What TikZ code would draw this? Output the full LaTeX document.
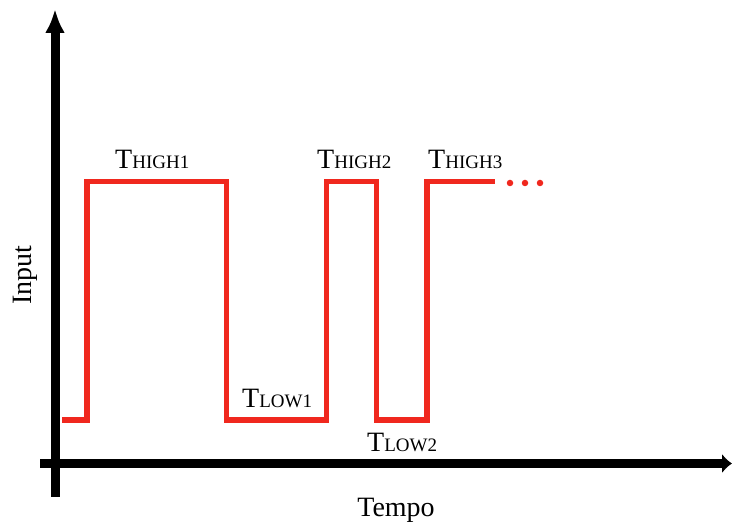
\documentclass[tikz,border=0pt]{standalone}
\usepackage{fontspec}
\setmainfont{Liberation Serif}
\usetikzlibrary{arrows.meta}
\definecolor{sigred}{RGB}{240,40,30}
\tikzset{
  axis/.style={line width=9pt},
  signal/.style={draw=sigred, line width=5.5pt, line join=miter},
  lbl/.style={inner sep=0pt, anchor=base west, font=\fontsize{28}{30}\selectfont},
  dot/.style={circle, fill=sigred, inner sep=0pt, minimum size=6.5pt}
}
\newcommand{\tlab}[1]{T{\fontsize{19}{20}\selectfont #1}}
\begin{document}
\begin{tikzpicture}[x=1pt, y=-1pt]
  \useasboundingbox (0,0) rectangle (732,526);
  % axes
  \coordinate (yb) at (55,497);
  \coordinate (yt) at (55,9);
  \coordinate (xl) at (40,463.5);
  \coordinate (xr) at (732,463.5);
  \draw[axis, -{Latex[length=24pt,width=20pt]}] (yb) -- (yt);
  \draw[axis, -{Latex[length=10pt,width=20pt]}] (xl) -- (xr);
  % pulse train
  \coordinate (s0) at (62,420);
  \coordinate (s1) at (87,420);
  \coordinate (s2) at (87,181.5);
  \coordinate (s3) at (226.5,181.5);
  \coordinate (s4) at (226.5,420);
  \coordinate (s5) at (326.5,420);
  \coordinate (s6) at (326.5,181.5);
  \coordinate (s7) at (376.5,181.5);
  \coordinate (s8) at (376.5,420);
  \coordinate (s9) at (427,420);
  \coordinate (s10) at (427,181.5);
  \coordinate (s11) at (495,181.5);
  \draw[signal] (s0) -- (s1) -- (s2) -- (s3) -- (s4) -- (s5) -- (s6) -- (s7) -- (s8) -- (s9) -- (s10) -- (s11);
  \node[dot] (d1) at (510,183) {};
  \node[dot] (d2) at (525,183) {};
  \node[dot] (d3) at (540,183) {};
  % labels
  \node[lbl] (h1) at (115,169) {\tlab{HIGH1}};
  \node[lbl] (h2) at (317,169) {\tlab{HIGH2}};
  \node[lbl] (h3) at (428,169) {\tlab{HIGH3}};
  \node[lbl] (l1) at (242,408) {\tlab{LOW1}};
  \node[lbl] (l2) at (367,452) {\tlab{LOW2}};
  \node[lbl, anchor=base] (tx) at (396,517) {Tempo};
  \node[lbl, anchor=base, rotate=90] (ty) at (31,275) {Input};
\end{tikzpicture}
\end{document}
